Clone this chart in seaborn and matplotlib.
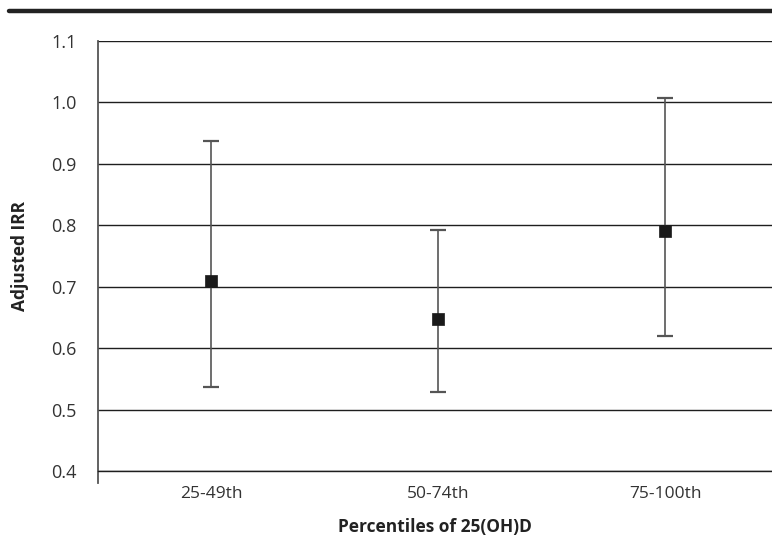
import matplotlib
matplotlib.use("Agg")
import numpy as np
import pandas as pd
import seaborn as sns
from matplotlib import pyplot as plt

# data
groups = ["25-49th", "50-74th", "75-100th"]
irr = [0.71, 0.648, 0.79]
ci_low = [0.536, 0.529, 0.619]
ci_high = [0.937, 0.792, 1.007]
y_ticks = [0.4, 0.5, 0.6, 0.7, 0.8, 0.9, 1.0, 1.1]

df = pd.DataFrame({"group": groups, "irr": irr, "low": ci_low, "high": ci_high})

sns.set_style("white")
plt.rcParams['font.family'] = ['Open Sans', 'DejaVu Sans']

fig = plt.figure(figsize=(7.72, 5.48), dpi=100)
ax = fig.add_axes([0.1263, 0.1405, 0.8737, 0.7847])

# error bars first, markers on top
yerr = np.array([df["irr"] - df["low"], df["high"] - df["irr"]])
ax.errorbar(df["group"], df["irr"], yerr=yerr, fmt="none", ecolor="#555555",
            elinewidth=1.2, capsize=6, capthick=1.6, zorder=3)
sns.scatterplot(data=df, x="group", y="irr", marker="s", s=75, color="#1a1a1a",
                edgecolor="#1a1a1a", linewidth=0.5, ax=ax, zorder=4)

ax.set_xlim(-0.5, 2.471)
ax.set_ylim(0.4, 1.1)
ax.set_yticks(y_ticks)
ax.set_yticklabels([f"{v:.1f}" for v in y_ticks])

ax.yaxis.grid(True, color="#1e1e1e", linewidth=1.0)
ax.xaxis.grid(False)
ax.set_axisbelow(True)

for side in ["top", "right"]:
    ax.spines[side].set_visible(False)
ax.spines["bottom"].set_color("#1e1e1e")
ax.spines["bottom"].set_linewidth(1.0)
ax.spines["left"].set_color("#555555")
ax.spines["left"].set_linewidth(1.3)
ax.spines["left"].set_bounds(0.38, 1.1)

ax.tick_params(axis="y", length=8, width=1.0, color="#1e1e1e", pad=7,
               labelsize=13, labelcolor="#333333")
ax.tick_params(axis="x", length=0, pad=11, labelsize=12.5, labelcolor="#333333")

ax.set_xlabel("Percentiles of 25(OH)D", fontsize=12.5, fontweight="bold",
              color="#222222", labelpad=11)
ax.set_ylabel("Adjusted IRR", fontsize=12.5, fontweight="bold", color="#222222",
              labelpad=16)

# heavy rule along the top of the figure
fig.add_artist(plt.Line2D([9 / 772, 1.0], [1 - 11 / 548, 1 - 11 / 548],
                          color="#222222", linewidth=3.2))

fig.savefig("out.png", dpi=100)
